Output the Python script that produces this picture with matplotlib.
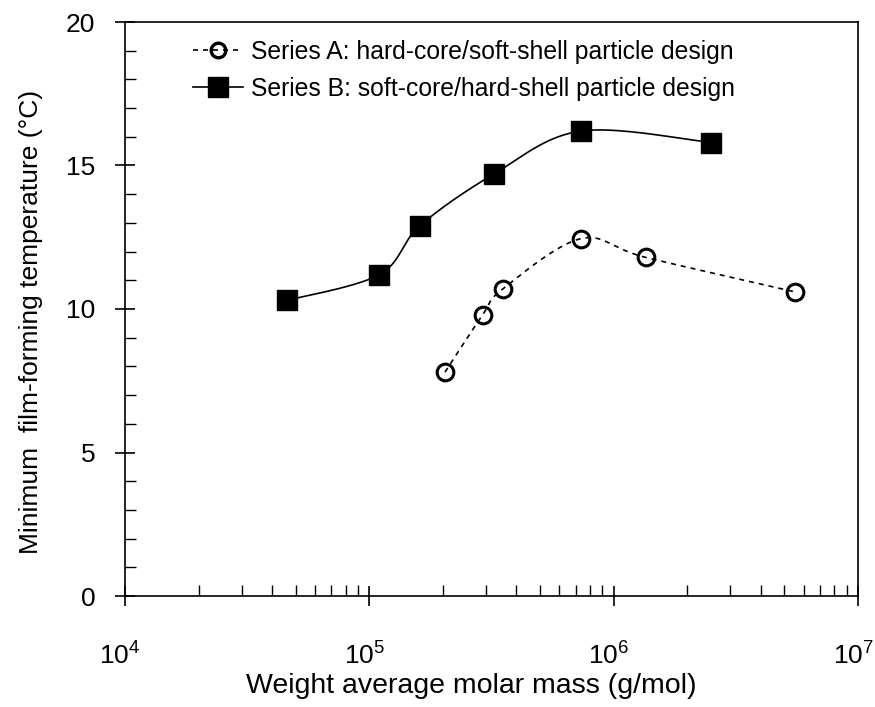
import numpy as np
import matplotlib
matplotlib.use("Agg")
import matplotlib.pyplot as plt
import matplotlib.transforms as mtransforms
from matplotlib.ticker import LogLocator, MultipleLocator, FuncFormatter

plt.rcParams['font.family'] = ['Liberation Sans', 'DejaVu Sans']
plt.rcParams['mathtext.fontset'] = 'custom'
plt.rcParams['mathtext.rm'] = 'Liberation Sans'
plt.rcParams['mathtext.it'] = 'Liberation Sans'

# Data
series_a_label = "Series A: hard-core/soft-shell particle design"
series_a_x = [2.04e5, 2.91e5, 3.52e5, 7.33e5, 1.35e6, 5.5e6]
series_a_y = [7.8, 9.8, 10.7, 12.45, 11.8, 10.6]

series_b_label = "Series B: soft-core/hard-shell particle design"
series_b_x = [4.6e4, 1.10e5, 1.61e5, 3.23e5, 7.33e5, 2.5e6]
series_b_y = [10.3, 11.2, 12.9, 14.7, 16.2, 15.8]

x_label = "Weight average molar mass (g/mol)"
y_label = "Minimum  film-forming temperature (°C)"

W, H = 875, 707
fig = plt.figure(figsize=(W / 100, H / 100), dpi=100)
left, right, bottom, top = 125, 858, 596, 22
ax = fig.add_axes([left / W, (H - bottom) / H, (right - left) / W, (bottom - top) / H])

ax.set_xscale('log')
ax.set_xlim(1e4, 1e7)
ax.set_ylim(0, 20)

# scale factors to do smoothing in screen-like space
sx = (right - left) / 3.0
sy = (bottom - top) / 20.0


def smooth(xs, ys, n=40):
    u = np.log10(np.asarray(xs)) * sx
    v = np.asarray(ys) * sy
    P = np.column_stack([u, v])
    P = np.vstack([P[0], P, P[-1]])
    out = []
    for i in range(1, len(P) - 2):
        p0, p1, p2, p3 = P[i - 1], P[i], P[i + 1], P[i + 2]
        t = np.linspace(0, 1, n)[:, None]
        c1 = p1 + (p2 - p0) / 6.0
        c2 = p2 - (p3 - p1) / 6.0
        seg = ((1 - t) ** 3) * p1 + 3 * ((1 - t) ** 2) * t * c1 + 3 * (1 - t) * t ** 2 * c2 + t ** 3 * p2
        out.append(seg if i == 1 else seg[1:])
    S = np.vstack(out)
    return 10 ** (S[:, 0] / sx), S[:, 1] / sy


ax_sa, ay_sa = smooth(series_a_x, series_a_y)
bx_sb, by_sb = smooth(series_b_x, series_b_y)

ax.plot(ax_sa, ay_sa, color='black', lw=1.2, ls=(0, (3, 3)), zorder=2)
ax.plot(series_a_x, series_a_y, ls='none', marker='o', ms=12, mfc='none', mec='black', mew=2.2, zorder=3)
ax.plot(bx_sb, by_sb, color='black', lw=1.2, ls='-', zorder=2)
ax.plot(series_b_x, series_b_y, ls='none', marker='s', ms=14.5, mfc='black', mec='black', zorder=3)

# legend handles
ha, = ax.plot([], [], color='black', lw=1.2, ls=(0, (3, 3)), marker='o', ms=10.5, mfc='none', mec='black', mew=2.4)
hb, = ax.plot([], [], color='black', lw=1.2, ls='-', marker='s', ms=14, mfc='black', mec='black')
ax.legend([ha, hb], [series_a_label, series_b_label], loc='upper left', bbox_to_anchor=(0.072, 0.995),
          frameon=False, fontsize=17.8, handlelength=2.05, handletextpad=0.3, labelspacing=0.52,
          numpoints=1, borderaxespad=0.2)

ax.xaxis.set_major_locator(LogLocator(base=10, numticks=10))
ax.xaxis.set_minor_locator(LogLocator(base=10, subs=np.arange(2, 10), numticks=20))
ax.xaxis.set_major_formatter(FuncFormatter(lambda v, p: r'$\mathregular{10^{%d}}$' % round(np.log10(v))))
ax.yaxis.set_major_locator(MultipleLocator(5))
ax.yaxis.set_minor_locator(MultipleLocator(1))

ax.tick_params(which='major', direction='inout', length=15, width=1.2, labelsize=19, colors='black')
ax.tick_params(which='minor', direction='in', length=8, width=1.0)
ax.tick_params(axis='x', which='major', pad=26)
ax.tick_params(axis='y', which='major', pad=14)

for s in ax.spines.values():
    s.set_linewidth(1.2)

ax.set_xlabel(x_label, fontsize=20.5)
ax.set_ylabel(y_label, fontsize=19)
ax.xaxis.set_label_coords(0.472, -0.134)
ax.yaxis.set_label_coords(-0.112, 0.477)

fig.canvas.draw()
offset = mtransforms.ScaledTranslation(-5 / 100, 0, fig.dpi_scale_trans)
for lab in ax.xaxis.get_majorticklabels():
    lab.set_transform(lab.get_transform() + offset)

fig.savefig('out.png', dpi=100)
